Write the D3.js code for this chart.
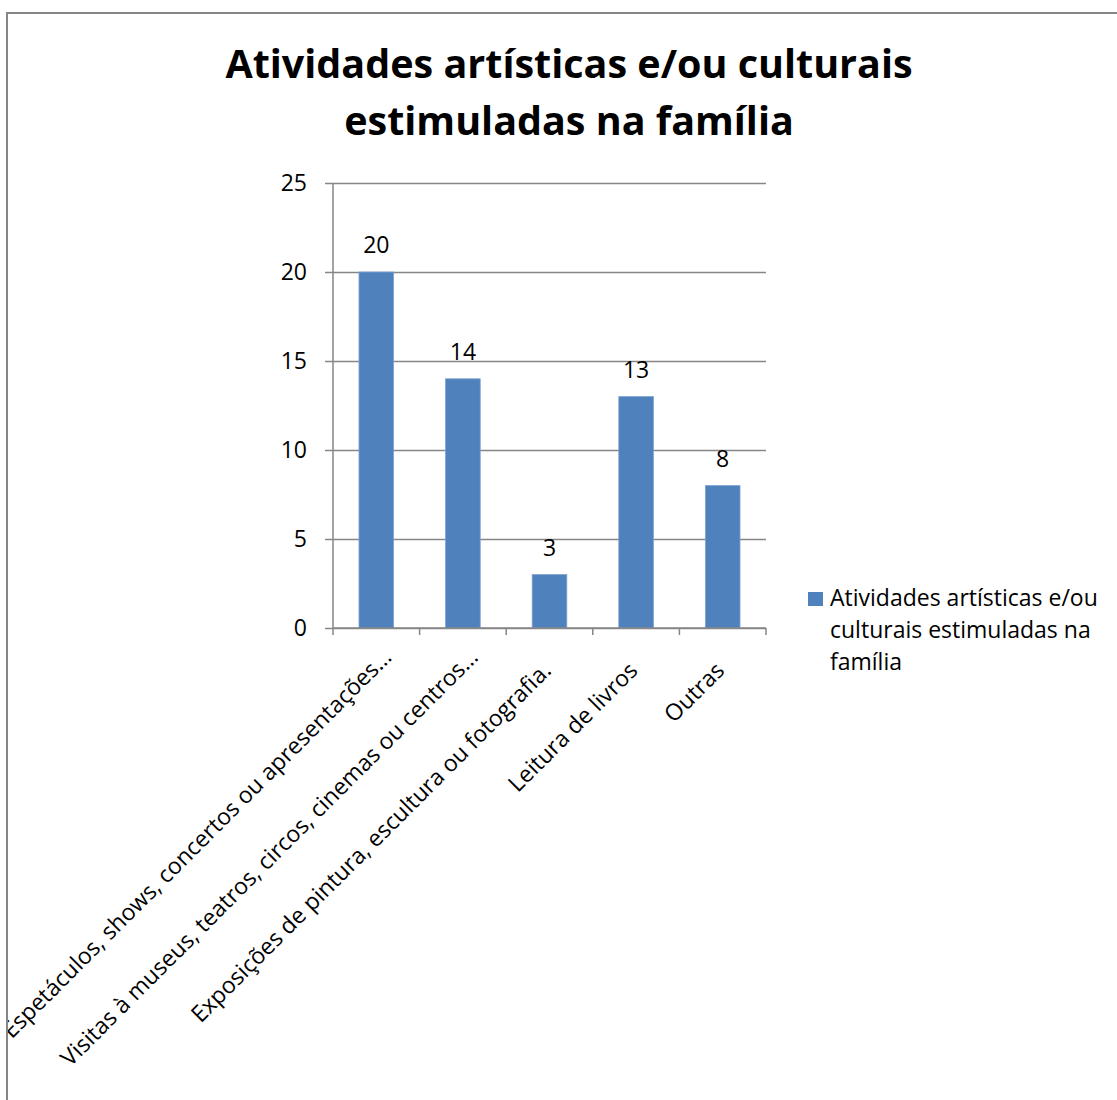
<!DOCTYPE html>
<html>
<head>
<meta charset="utf-8">
<script src="https://cdn.jsdelivr.net/npm/d3@7"></script>
<style>
  body { margin: 0; background: #fff; }
  text { font-family: "Open Sans", sans-serif; fill: #000; }
</style>
</head>
<body>
<div id="chart"></div>
<script>
const categories = [
    'Espetáculos, shows, concertos ou apresentações…',
    'Visitas à museus, teatros, circos, cinemas ou centros…',
    'Exposições de pintura, escultura ou fotografia.',
    'Leitura de livros',
    'Outras'
];
const values = [20, 14, 3, 13, 8];
const yTicks = [0, 5, 10, 15, 20, 25];
const seriesName = 'Atividades artísticas e/ou culturais estimuladas na família';
const titleLines = ['Atividades artísticas e/ou culturais', 'estimuladas na família'];
const legendLines = ['Atividades artísticas e/ou', 'culturais estimuladas na', 'família'];

const width = 1117;
const height = 1100;
const barColor = '#4F81BD';
const lineColor = '#868686';
const fontSize = '23px';

const svg = d3.select('#chart')
    .append('svg')
    .attr('width', width)
    .attr('height', height);

// clip everything to the chart area (labels run past the left border)
svg.append('defs').append('clipPath')
    .attr('id', 'chartClip')
    .append('rect')
    .attr('x', 8).attr('y', 14)
    .attr('width', width).attr('height', height);

svg.append('rect')
    .attr('x', 7).attr('y', 13)
    .attr('width', width + 20).attr('height', height + 20)
    .attr('fill', '#fff')
    .attr('stroke', lineColor)
    .attr('stroke-width', 2);

const root = svg.append('g').attr('clip-path', 'url(#chartClip)');

// title
root.selectAll('text.title')
    .data(titleLines)
    .enter().append('text')
    .attr('class', 'title')
    .attr('x', 569)
    .attr('y', (d, i) => 78 + i * 57)
    .attr('text-anchor', 'middle')
    .style('font-size', '39.5px')
    .style('font-weight', 'bold')
    .text(d => d);

const plot = { left: 333, right: 766, top: 183, bottom: 628 };

const x = d3.scaleBand()
    .domain(categories)
    .range([plot.left, plot.right])
    .paddingInner(0.6)
    .paddingOuter(0.3);

const y = d3.scaleLinear()
    .domain([0, 25])
    .range([plot.bottom, plot.top]);

// grid lines + y ticks
root.append('g')
    .attr('transform', `translate(${plot.left},0)`)
    .call(d3.axisLeft(y)
        .tickValues(yTicks)
        .tickSize(-(plot.right - plot.left))
        .tickSizeOuter(0)
        .tickFormat(''))
    .call(g => g.select('.domain').remove())
    .call(g => g.selectAll('.tick line')
        .attr('x1', -8)
        .attr('stroke', lineColor)
        .attr('stroke-width', 1.5));

// y tick labels
root.append('g')
    .selectAll('text')
    .data(yTicks)
    .enter().append('text')
    .attr('x', 307)
    .attr('y', d => y(d))
    .attr('dy', '0.36em')
    .attr('text-anchor', 'end')
    .style('font-size', fontSize)
    .text(d => d);

// y axis line
root.append('line')
    .attr('x1', plot.left).attr('x2', plot.left)
    .attr('y1', plot.top).attr('y2', plot.bottom)
    .attr('stroke', lineColor)
    .attr('stroke-width', 1.5);

// bars
root.append('g')
    .selectAll('rect')
    .data(values)
    .enter().append('rect')
    .attr('x', (d, i) => x(categories[i]))
    .attr('y', d => y(d))
    .attr('width', x.bandwidth())
    .attr('height', d => y(0) - y(d))
    .attr('fill', barColor)
    .attr('stroke', '#7ea3d2')
    .attr('stroke-width', 0.8);

// x axis line with ticks at band edges
const step = x.step();
const edges = d3.range(categories.length + 1).map(i => plot.left + i * step);
root.append('line')
    .attr('x1', plot.left).attr('x2', plot.right)
    .attr('y1', plot.bottom).attr('y2', plot.bottom)
    .attr('stroke', lineColor)
    .attr('stroke-width', 1.5);
root.append('g')
    .selectAll('line')
    .data(edges)
    .enter().append('line')
    .attr('x1', d => d).attr('x2', d => d)
    .attr('y1', plot.bottom).attr('y2', plot.bottom + 7)
    .attr('stroke', lineColor)
    .attr('stroke-width', 1.5);

// value labels
root.append('g')
    .selectAll('text')
    .data(values)
    .enter().append('text')
    .attr('x', (d, i) => x(categories[i]) + x.bandwidth() / 2)
    .attr('y', d => y(d) - 19)
    .attr('text-anchor', 'middle')
    .style('font-size', fontSize)
    .text(d => d);

// rotated category labels; truncated ones (…) sit a bit further up the diagonal
root.append('g')
    .selectAll('text')
    .data(categories)
    .enter().append('text')
    .attr('transform', d => {
        const shift = d.endsWith('…') ? 13.5 : 0;
        const cx = x(d) + x.bandwidth() / 2 + 3 + shift;
        const cy = plot.bottom + 44 - shift;
        return `translate(${cx},${cy}) rotate(-45)`;
    })
    .attr('text-anchor', 'end')
    .style('font-size', fontSize)
    .text(d => d);

// legend
const legend = root.append('g');
legend.append('rect')
    .attr('x', 808).attr('y', 592)
    .attr('width', 15).attr('height', 14)
    .attr('fill', barColor);
legend.selectAll('text')
    .data(legendLines)
    .enter().append('text')
    .attr('x', 830)
    .attr('y', (d, i) => 606 + i * 32)
    .style('font-size', fontSize)
    .text(d => d);
</script>
</body>
</html>
